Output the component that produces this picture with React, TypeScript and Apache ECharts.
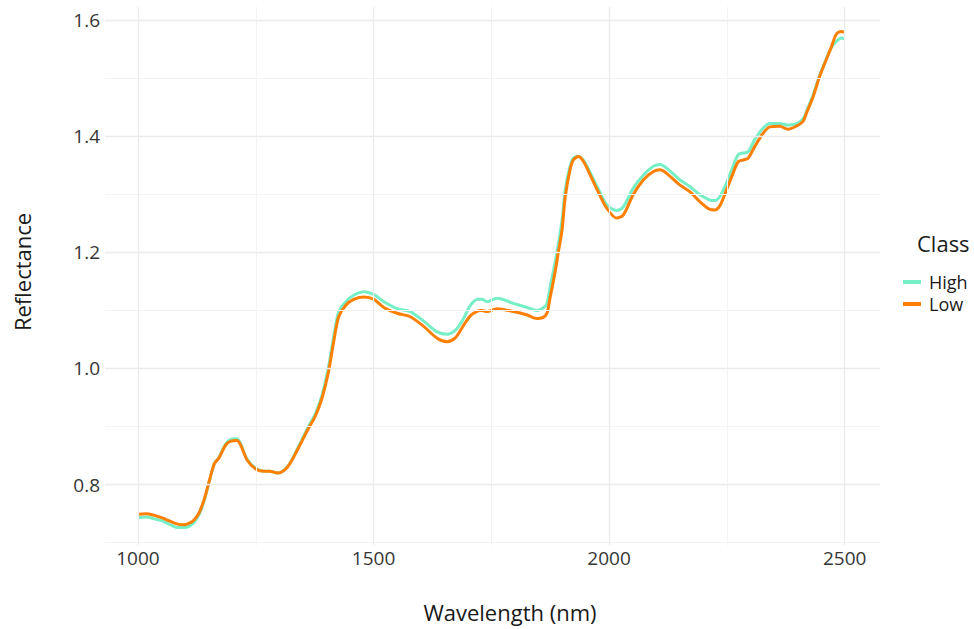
import React, { useEffect, useRef } from "react";
import * as echarts from "echarts";

const wavelengths = [1000, 1017, 1035, 1050, 1068, 1084, 1098, 1110, 1120, 1130, 1140, 1148, 1162, 1172, 1186, 1197, 1210, 1218, 1232, 1250, 1268, 1280, 1296, 1317, 1338, 1360, 1377, 1391, 1405, 1416, 1426, 1441, 1458, 1480, 1501, 1522, 1550, 1578, 1607, 1635, 1656, 1674, 1691, 1706, 1722, 1730, 1741, 1762, 1797, 1826, 1847, 1860, 1868, 1875, 1886, 1893, 1900, 1907, 1917, 1924, 1935, 1946, 1960, 1977, 1995, 2016, 2030, 2051, 2073, 2094, 2108, 2122, 2150, 2172, 2193, 2214, 2225, 2235, 2249, 2263, 2274, 2285, 2295, 2309, 2327, 2341, 2362, 2380, 2397, 2412, 2419, 2433, 2447, 2461, 2472, 2482, 2493, 2500];

const lowValues = [0.749, 0.750, 0.747, 0.743, 0.737, 0.732, 0.731, 0.734, 0.740, 0.752, 0.773, 0.796, 0.836, 0.846, 0.868, 0.875, 0.876, 0.868, 0.842, 0.827, 0.823, 0.823, 0.820, 0.830, 0.859, 0.894, 0.919, 0.950, 0.997, 1.049, 1.089, 1.109, 1.119, 1.123, 1.119, 1.105, 1.095, 1.089, 1.072, 1.052, 1.046, 1.053, 1.074, 1.091, 1.099, 1.100, 1.098, 1.103, 1.098, 1.092, 1.086, 1.088, 1.095, 1.123, 1.169, 1.204, 1.238, 1.296, 1.342, 1.359, 1.365, 1.356, 1.333, 1.304, 1.276, 1.259, 1.264, 1.299, 1.325, 1.339, 1.342, 1.336, 1.316, 1.304, 1.287, 1.274, 1.273, 1.280, 1.307, 1.336, 1.356, 1.359, 1.362, 1.382, 1.405, 1.416, 1.417, 1.412, 1.417, 1.426, 1.440, 1.468, 1.503, 1.532, 1.554, 1.575, 1.580, 1.579];

const highValues = [0.743, 0.744, 0.741, 0.738, 0.731, 0.726, 0.726, 0.729, 0.736, 0.749, 0.771, 0.795, 0.836, 0.847, 0.870, 0.878, 0.879, 0.870, 0.843, 0.828, 0.823, 0.823, 0.820, 0.831, 0.861, 0.897, 0.923, 0.955, 1.005, 1.058, 1.097, 1.115, 1.126, 1.132, 1.127, 1.115, 1.103, 1.098, 1.081, 1.063, 1.059, 1.066, 1.086, 1.109, 1.119, 1.119, 1.115, 1.121, 1.112, 1.105, 1.100, 1.104, 1.112, 1.141, 1.185, 1.218, 1.255, 1.308, 1.348, 1.362, 1.365, 1.358, 1.337, 1.309, 1.282, 1.272, 1.278, 1.310, 1.333, 1.348, 1.351, 1.345, 1.325, 1.313, 1.299, 1.290, 1.289, 1.296, 1.319, 1.348, 1.368, 1.371, 1.373, 1.394, 1.414, 1.422, 1.422, 1.419, 1.421, 1.430, 1.443, 1.471, 1.505, 1.533, 1.553, 1.563, 1.569, 1.567];

const xMajorTicks = [1000, 1500, 2000, 2500];
const xMinorTicks = [1250, 1750, 2250];
const yMajorTicks = [0.8, 1.0, 1.2, 1.4, 1.6];
const yMinorTicks = [0.7, 0.9, 1.1, 1.3, 1.5];

const classNames = ["High", "Low"];
const classColors = ["#76EEC6", "#FF7F00"];

const FONT = "'Open Sans', 'Noto Sans', sans-serif";

export default function App() {
  const ref = useRef<HTMLDivElement>(null);

  useEffect(() => {
    if (!ref.current) return;
    const chart = echarts.init(ref.current, null, { renderer: "svg" });

    const majorStyle = { color: "#ebebeb", width: 1.3, type: "solid" as const };
    const minorStyle = { color: "#f3f3f3", width: 1, type: "solid" as const };

    const gridLines = [
      ...yMinorTicks.map((v) => ({ yAxis: v, lineStyle: minorStyle })),
      ...xMinorTicks.map((v) => ({ xAxis: v, lineStyle: minorStyle })),
      ...yMajorTicks.map((v) => ({ yAxis: v, lineStyle: majorStyle })),
      ...xMajorTicks.map((v) => ({ xAxis: v, lineStyle: majorStyle })),
    ];

    const toPairs = (vals: number[]) => wavelengths.map((w, i) => [w, vals[i]]);

    chart.setOption({
      animation: false,
      backgroundColor: "#ffffff",
      grid: { left: 105, right: 94, top: 7, bottom: 84, containLabel: false },
      xAxis: {
        type: "value",
        min: 930,
        max: 2575,
        axisLine: { show: false },
        axisTick: { show: false },
        splitLine: { show: false },
        axisLabel: {
          customValues: xMajorTicks,
          showMinLabel: true,
          showMaxLabel: true,
          margin: 3,
          fontFamily: FONT,
          fontSize: 19,
          color: "#363636",
          formatter: (v: number) => String(Math.round(v)),
        },
      },
      yAxis: {
        type: "value",
        min: 0.696,
        max: 1.6224,
        axisLine: { show: false },
        axisTick: { show: false },
        splitLine: { show: false },
        axisLabel: {
          customValues: yMajorTicks,
          margin: 5,
          fontFamily: FONT,
          fontSize: 19,
          color: "#363636",
          formatter: (v: number) => v.toFixed(1),
        },
      },
      legend: {
        data: classNames,
        orient: "vertical",
        left: 903,
        top: 273,
        padding: 0,
        itemWidth: 18,
        itemHeight: 4,
        itemGap: 4,
        icon: "rect",
        textStyle: {
          fontFamily: FONT,
          fontSize: 18,
          lineHeight: 18,
          color: "#1a1a1a",
          padding: [0, 0, 0, 3],
        },
      },
      graphic: [
        {
          type: "text",
          left: 917,
          top: 232,
          style: { text: "Class", fontFamily: FONT, fontSize: 22, fill: "#1a1a1a" },
        },
        {
          type: "text",
          x: 510,
          y: 612,
          style: {
            text: "Wavelength (nm)",
            fontFamily: FONT,
            fontSize: 22,
            fill: "#1a1a1a",
            align: "center",
            verticalAlign: "middle",
          },
        },
        {
          type: "text",
          x: 22,
          y: 272,
          rotation: Math.PI / 2,
          style: {
            text: "Reflectance",
            fontFamily: FONT,
            fontSize: 22,
            fill: "#1a1a1a",
            align: "center",
            verticalAlign: "middle",
          },
        },
      ],
      series: [
        {
          name: "__grid",
          type: "line",
          data: [],
          z: 1,
          silent: true,
          markLine: {
            silent: true,
            symbol: ["none", "none"],
            label: { show: false },
            emphasis: { disabled: true },
            animation: false,
            data: gridLines,
          },
        },
        {
          name: classNames[0],
          type: "line",
          data: toPairs(highValues),
          smooth: 0.3,
          showSymbol: false,
          symbol: "none",
          z: 3,
          itemStyle: { color: classColors[0] },
          lineStyle: { color: classColors[0], width: 3 },
        },
        {
          name: classNames[1],
          type: "line",
          data: toPairs(lowValues),
          smooth: 0.3,
          showSymbol: false,
          symbol: "none",
          z: 4,
          itemStyle: { color: classColors[1] },
          lineStyle: { color: classColors[1], width: 3 },
        },
      ],
    });

    return () => {
      chart.dispose();
    };
  }, []);

  return (
    <div
      ref={ref}
      style={{ position: "fixed", left: 0, top: 0, width: 974, height: 629, background: "#fff" }}
    />
  );
}
